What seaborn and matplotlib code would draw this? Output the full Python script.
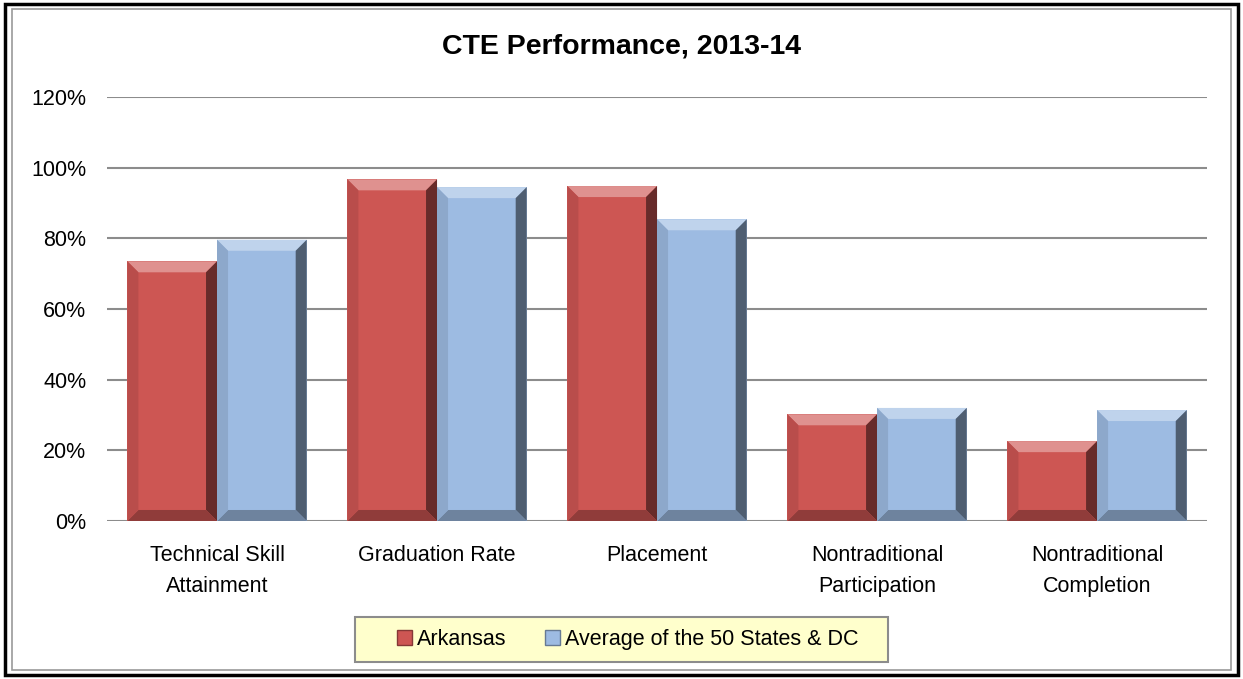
import matplotlib
matplotlib.use("Agg")
import matplotlib.pyplot as plt
import seaborn as sns
import pandas as pd
import numpy as np
from matplotlib.patches import Polygon, Rectangle
from matplotlib.ticker import PercentFormatter

categories = ["Technical Skill\nAttainment", "Graduation Rate", "Placement",
              "Nontraditional\nParticipation", "Nontraditional\nCompletion"]
series_names = ["Arkansas", "Average of the 50 States & DC"]
arkansas = [73.5, 96.7, 94.8, 30.2, 22.6]
average = [79.6, 94.5, 85.4, 32.0, 31.4]
y_ticks = [0, 20, 40, 60, 80, 100, 120]

df = pd.DataFrame({
    "Category": categories * 2,
    "Series": [series_names[0]] * 5 + [series_names[1]] * 5,
    "Value": arkansas + average,
})

sns.set_theme(style="white")
plt.rcParams["font.family"] = ["Liberation Sans", "DejaVu Sans"]
plt.rcParams["text.color"] = "black"
plt.rcParams["xtick.color"] = "black"
plt.rcParams["ytick.color"] = "black"

red = "#CD5653"
blue = "#9DBBE2"

fig = plt.figure(figsize=(12.43, 6.79), dpi=100)
ax = fig.add_axes([0.0861, 0.2327, 0.885, 0.6244])

sns.barplot(data=df, x="Category", y="Value", hue="Series", order=categories,
            hue_order=series_names, palette=[red, blue], width=0.815,
            ax=ax, legend=False, saturation=1, edgecolor="none", zorder=3)

ax.set_ylim(0, 120)
ax.set_xlim(-0.5, 4.5)
ax.set_yticks(y_ticks)
ax.yaxis.set_major_formatter(PercentFormatter(decimals=0))
ax.grid(axis="y", color="#8C8C8C", linewidth=1.5, zorder=0)
ax.grid(axis="x", visible=False)
for s in ax.spines.values():
    s.set_visible(False)
ax.set_xlabel("")
ax.set_ylabel("")
ax.tick_params(axis="y", labelsize=15.5, pad=15, length=0, labelcolor="black")
ax.tick_params(axis="x", labelsize=15.5, pad=17, length=0, labelcolor="black")
for lbl in ax.get_xticklabels():
    lbl.set_linespacing(1.65)
ax.set_axisbelow(True)

fig.text(0.5, 0.931, "CTE Performance, 2013-14", ha="center", va="center",
         fontsize=20.5, fontweight="bold", color="black")

# bevel effect derived from the drawn bar patches
fig.canvas.draw()
inv = ax.transData.inverted()
bev_px = 11
def lighten(c, f):
    c = np.array(matplotlib.colors.to_rgb(c))
    return tuple(c + (1 - c) * f)
def darken(c, f):
    c = np.array(matplotlib.colors.to_rgb(c))
    return tuple(c * (1 - f))
for patch in list(ax.patches):
    bb = patch.get_window_extent()
    if bb.width < 2:
        continue
    col = patch.get_facecolor()
    x0, y0, x1, y1 = bb.x0, bb.y0, bb.x1, bb.y1
    b = min(bev_px, (y1 - y0) / 2)
    def d(pts):
        return inv.transform(pts)
    top = d([(x0, y1), (x1, y1), (x1 - b, y1 - b), (x0 + b, y1 - b)])
    right = d([(x1, y1), (x1, y0), (x1 - b, y0 + b), (x1 - b, y1 - b)])
    bottom = d([(x0, y0), (x1, y0), (x1 - b, y0 + b), (x0 + b, y0 + b)])
    left = d([(x0, y0), (x0, y1), (x0 + b, y1 - b), (x0 + b, y0 + b)])
    ax.add_patch(Polygon(top, closed=True, facecolor=lighten(col, 0.35), edgecolor="none", zorder=4))
    ax.add_patch(Polygon(right, closed=True, facecolor=darken(col, 0.5), edgecolor="none", zorder=4))
    ax.add_patch(Polygon(bottom, closed=True, facecolor=darken(col, 0.3), edgecolor="none", zorder=4))
    ax.add_patch(Polygon(left, closed=True, facecolor=darken(col, 0.1), edgecolor="none", zorder=4))

# legend box
fig.patches.append(Rectangle((0.2856, 0.025), 0.4288, 0.0663, transform=fig.transFigure,
                             facecolor="#FFFFCC", edgecolor="#8C8C8C", linewidth=1.5, zorder=1))
handles = [Rectangle((0, 0), 1, 1, facecolor=red, edgecolor=darken(red, 0.35)),
           Rectangle((0, 0), 1, 1, facecolor=blue, edgecolor=darken(blue, 0.35))]
leg = fig.legend(handles, series_names, loc="center", bbox_to_anchor=(0.505, 0.058),
                 ncol=2, frameon=False, fontsize=15.5,
                 handlelength=0.7, handleheight=0.7, handletextpad=0.25,
                 columnspacing=1.75, borderpad=0.3)
for t in leg.get_texts():
    t.set_color("black")

fig.patches.append(Rectangle((0.004, 0.006), 0.992, 0.988, transform=fig.transFigure,
                             fill=False, edgecolor="black", linewidth=2.5))
fig.patches.append(Rectangle((0.0095, 0.013), 0.981, 0.974, transform=fig.transFigure,
                             fill=False, edgecolor="#9A9A9A", linewidth=1.2))

fig.savefig("out.png", dpi=100, facecolor="white")
